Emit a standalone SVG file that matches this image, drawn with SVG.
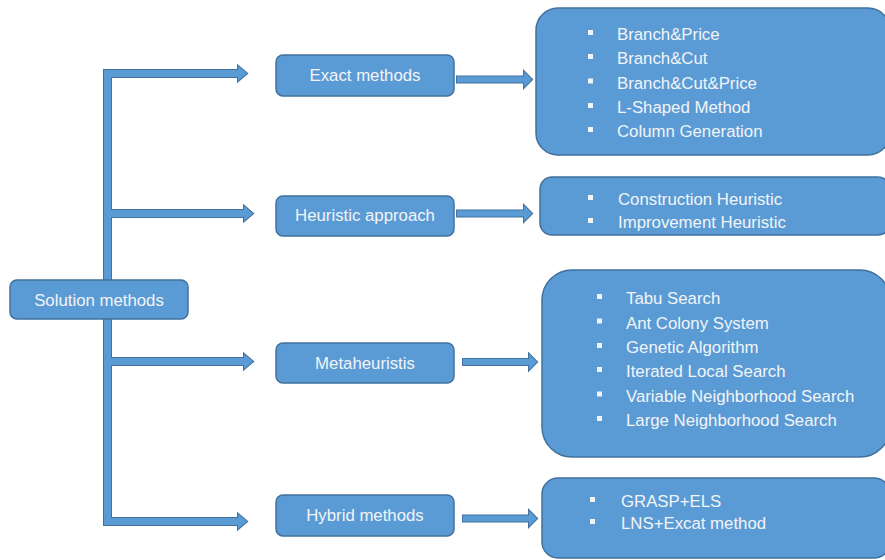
<svg xmlns="http://www.w3.org/2000/svg" xmlns:xlink="http://www.w3.org/1999/xlink" width="885" height="560" viewBox="0 0 885 560">
<style>
.box{fill:#5b9bd5;stroke:#41719c;stroke-width:1.5}
.t{font-family:"Liberation Sans",Arial,sans-serif;font-size:16.8px;fill:#f2f4f7}
.c{text-anchor:middle}
.b{fill:#f2f4f7}
.cs{fill:none;stroke:#41719c;stroke-width:2;stroke-linejoin:miter}
.cf{fill:#5b9bd5;stroke:none}
</style>
<defs>
<g id="conn">
<rect x="104" y="70" width="7" height="455"/>
<polygon points="104,70 238,70 238,66 247,73.5 238,81 238,77 104,77"/>
<polygon points="104,210 244,210 244,206 253,213.5 244,221 244,217 104,217"/>
<polygon points="104,358 244,358 244,354 253,361.5 244,369 244,365 104,365"/>
<polygon points="104,518 238,518 238,514 247,521.5 238,529 238,525 104,525"/>
<polygon points="457,76.5 524,76.5 524,71.5 532,79.5 524,87.5 524,82.5 457,82.5"/>
<polygon points="457,210.5 524,210.5 524,205.5 532,213.5 524,221.5 524,216.5 457,216.5"/>
<polygon points="463,359 529,359 529,354 537,362 529,370 529,365 463,365"/>
<polygon points="463,515.5 529,515.5 529,510.5 537,518.5 529,526.5 529,521.5 463,521.5"/>
</g>
</defs>
<rect width="885" height="560" fill="#ffffff"/>
<g id="connectors">
<use xlink:href="#conn" class="cs"/>
<use xlink:href="#conn" class="cf"/>
</g>
<g id="root">
<rect class="box" x="10" y="280" width="178" height="39" rx="7"/>
<text class="t c" x="99" y="305.5">Solution methods</text>
</g>
<g id="exact">
<rect class="box" x="276" y="55" width="178" height="41" rx="7"/>
<text class="t c" x="365" y="81">Exact methods</text>
</g>
<g id="heuristic">
<rect class="box" x="276" y="196" width="178" height="40" rx="7"/>
<text class="t c" x="365" y="221">Heuristic approach</text>
</g>
<g id="meta">
<rect class="box" x="276" y="343" width="178" height="40" rx="7"/>
<text class="t c" x="365" y="368.5">Metaheuristis</text>
</g>
<g id="hybrid">
<rect class="box" x="276" y="495" width="178" height="41" rx="7"/>
<text class="t c" x="365" y="521">Hybrid methods</text>
</g>
<g id="exact-list">
<rect class="box" x="536" y="8" width="354" height="147" rx="22"/>
<rect class="b" x="588" y="30" width="5" height="5"/>
<rect class="b" x="588" y="54" width="5" height="5"/>
<rect class="b" x="588" y="78.5" width="5" height="5"/>
<rect class="b" x="588" y="103" width="5" height="5"/>
<rect class="b" x="588" y="127" width="5" height="5"/>
<text class="t" x="617" y="40">Branch&amp;Price</text>
<text class="t" x="617" y="64">Branch&amp;Cut</text>
<text class="t" x="617" y="88.5">Branch&amp;Cut&amp;Price</text>
<text class="t" x="617" y="113">L-Shaped Method</text>
<text class="t" x="617" y="137">Column Generation</text>
</g>
<g id="heuristic-list">
<rect class="box" x="540" y="177" width="350" height="58" rx="12"/>
<rect class="b" x="588" y="195" width="5" height="5"/>
<rect class="b" x="588" y="218" width="5" height="5"/>
<text class="t" x="618" y="205">Construction Heuristic</text>
<text class="t" x="618" y="228">Improvement Heuristic</text>
</g>
<g id="meta-list">
<rect class="box" x="542" y="270" width="348" height="187" rx="30"/>
<rect class="b" x="597" y="294" width="5" height="5"/>
<rect class="b" x="597" y="318.5" width="5" height="5"/>
<rect class="b" x="597" y="343" width="5" height="5"/>
<rect class="b" x="597" y="367" width="5" height="5"/>
<rect class="b" x="597" y="391.5" width="5" height="5"/>
<rect class="b" x="597" y="416" width="5" height="5"/>
<text class="t" x="626" y="304">Tabu Search</text>
<text class="t" x="626" y="328.5">Ant Colony System</text>
<text class="t" x="626" y="353">Genetic Algorithm</text>
<text class="t" x="626" y="377">Iterated Local Search</text>
<text class="t" x="626" y="401.5">Variable Neighborhood Search</text>
<text class="t" x="626" y="426">Large Neighborhood Search</text>
</g>
<g id="hybrid-list">
<rect class="box" x="542" y="478" width="348" height="80" rx="16"/>
<rect class="b" x="590" y="497" width="5" height="5"/>
<rect class="b" x="590" y="519" width="5" height="5"/>
<text class="t" x="621" y="507">GRASP+ELS</text>
<text class="t" x="621" y="529">LNS+Excat method</text>
</g>
</svg>
